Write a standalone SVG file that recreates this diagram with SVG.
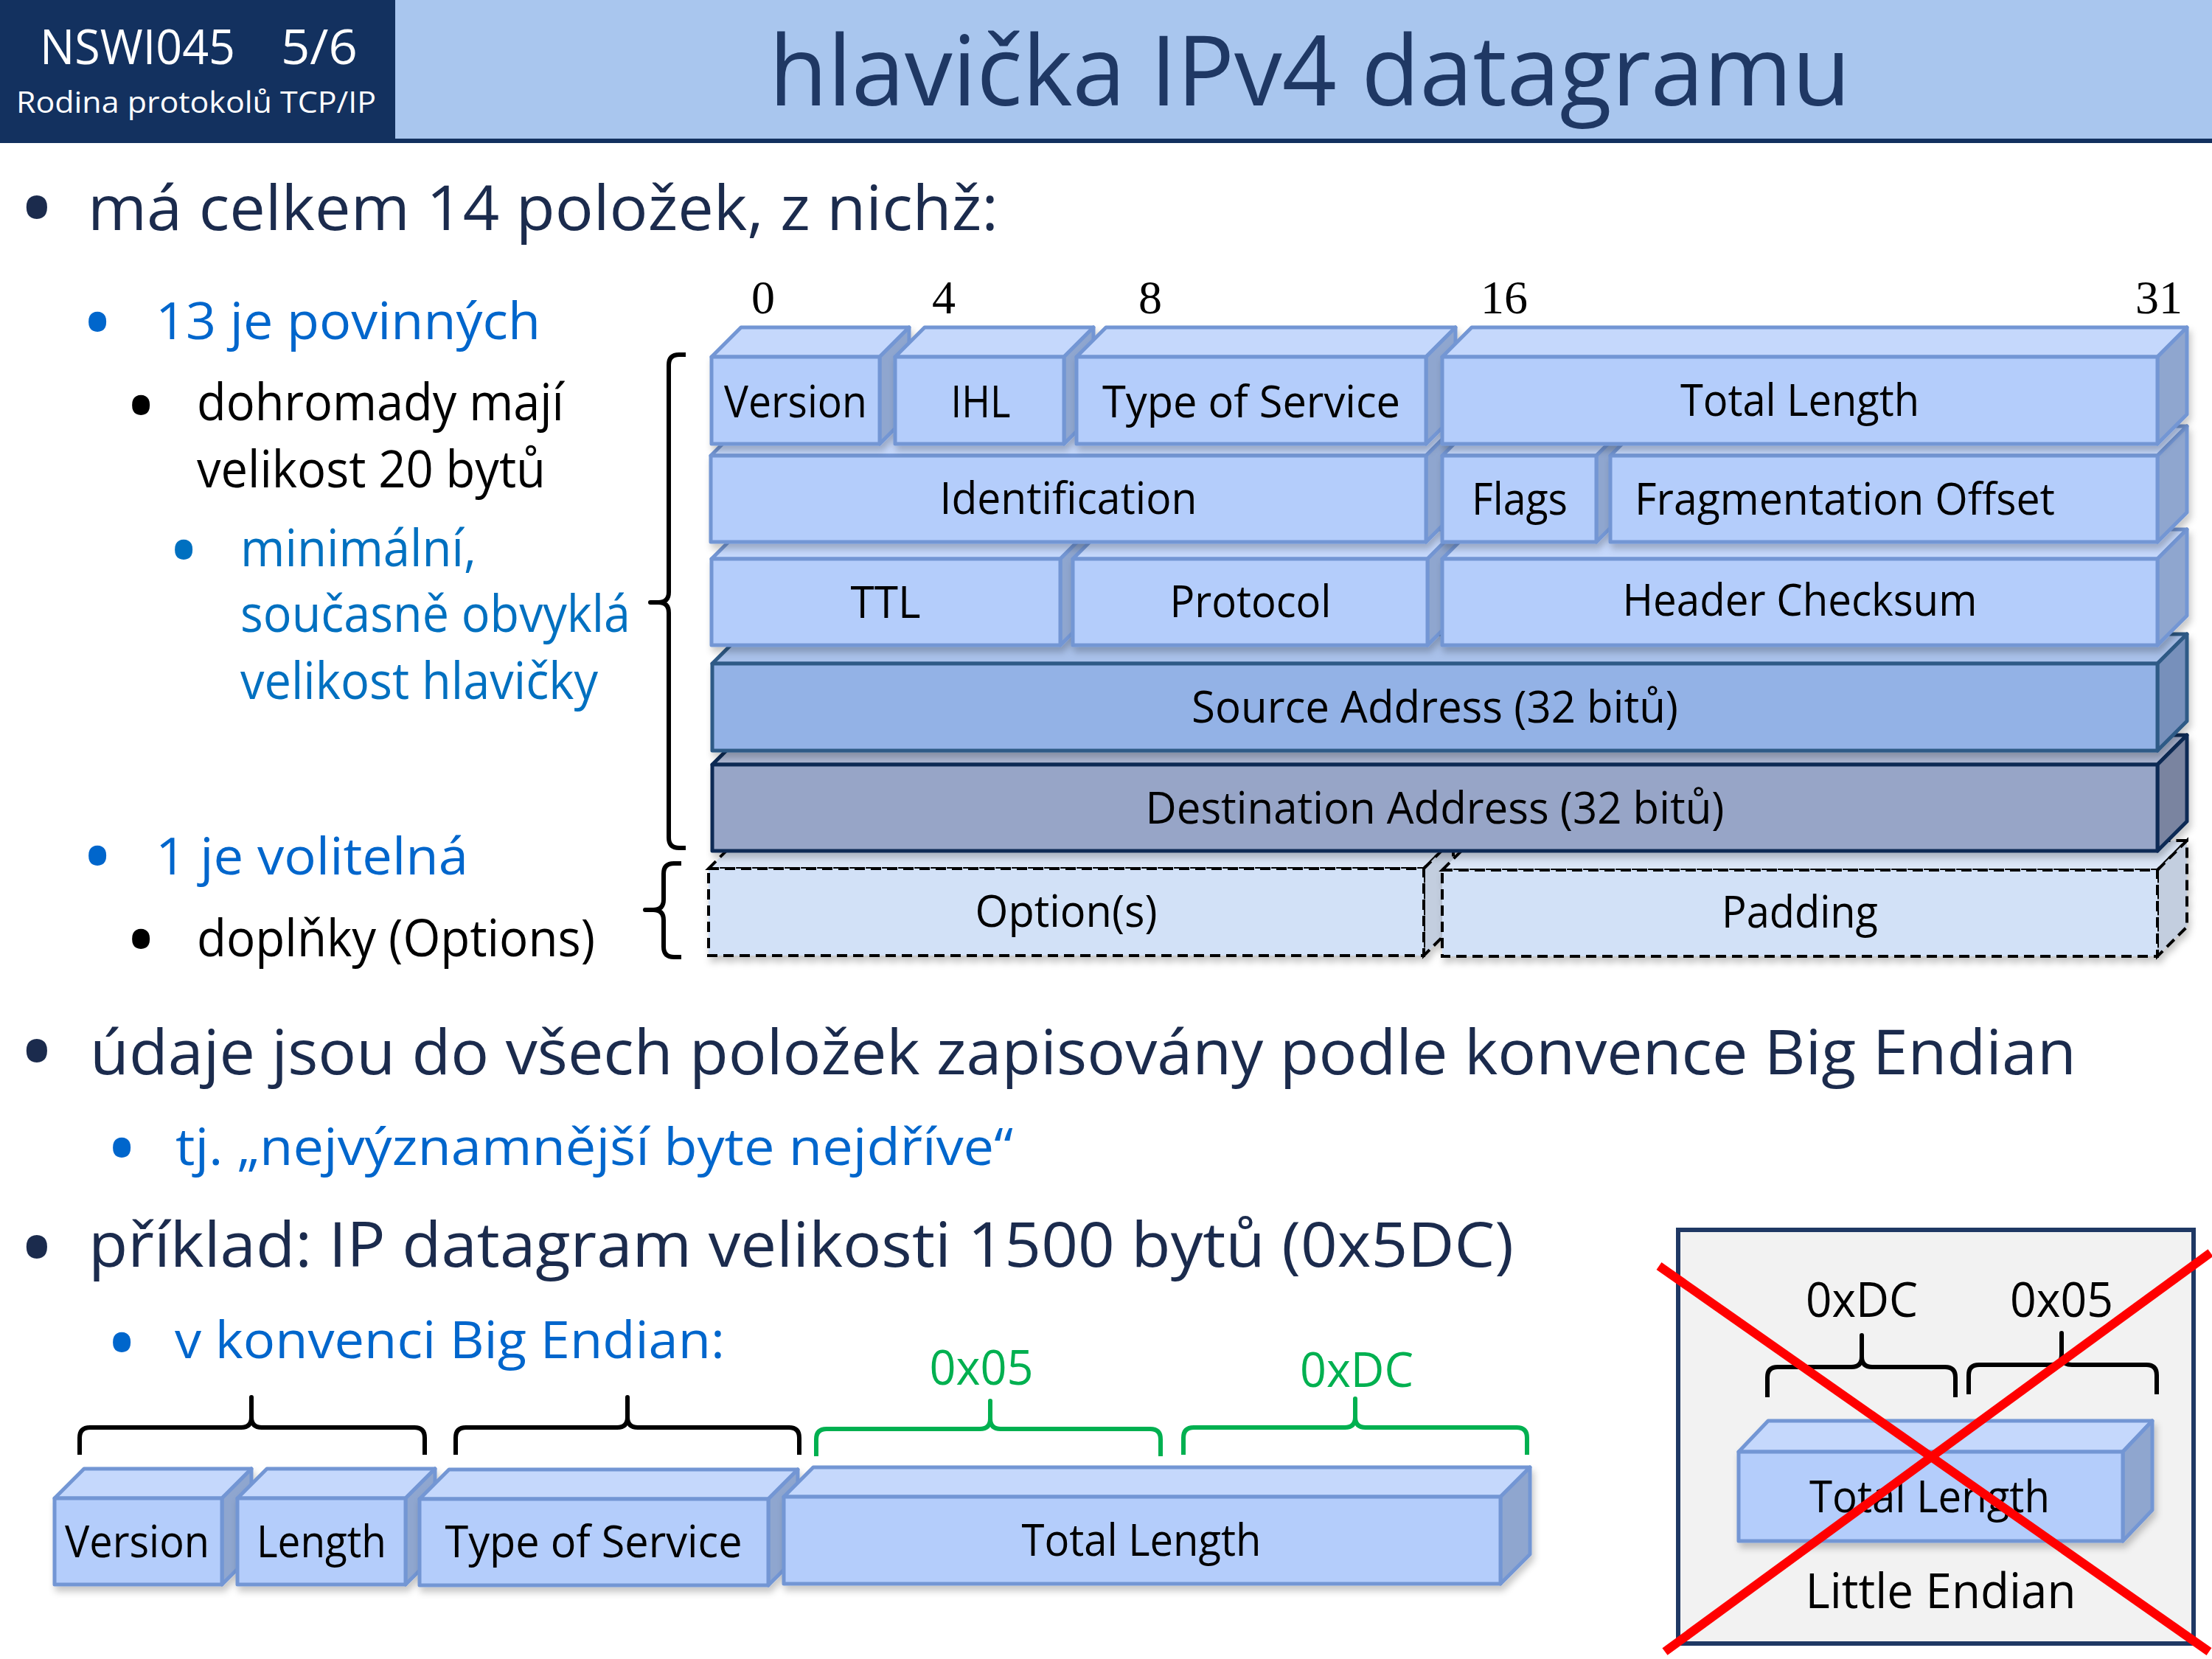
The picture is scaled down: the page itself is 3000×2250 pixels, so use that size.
<svg xmlns="http://www.w3.org/2000/svg" width="3000" height="2250" viewBox="0 0 3000 2250">
<defs>
<filter id="sh" x="-5%" y="-20%" width="110%" height="150%">
<feDropShadow dx="3" dy="7" stdDeviation="5" flood-color="#000" flood-opacity="0.22"/>
</filter>
<style>
text{font-family:'Open Sans','Liberation Sans',sans-serif}
.f{fill:#B4CDFB;stroke:#7396D4;stroke-width:5;stroke-linejoin:round}
.t{fill:#C5D8FC;stroke:#7396D4;stroke-width:5;stroke-linejoin:round}
.s{fill:#8FA6CF;stroke:#7396D4;stroke-width:5;stroke-linejoin:round}
.sf{fill:#93B2E6;stroke:#2F5A86;stroke-width:5;stroke-linejoin:round}
.st{fill:#A9C1EA;stroke:#2F5A86;stroke-width:5;stroke-linejoin:round}
.ss{fill:#7790BB;stroke:#2F5A86;stroke-width:5;stroke-linejoin:round}
.df{fill:#97A5C7;stroke:#0E2B55;stroke-width:5;stroke-linejoin:round}
.dt{fill:#ABB6D2;stroke:#0E2B55;stroke-width:5;stroke-linejoin:round}
.ds{fill:#7A84A0;stroke:#0E2B55;stroke-width:5;stroke-linejoin:round}
.of{fill:#D2E1F7;stroke:#000;stroke-width:4;stroke-dasharray:14 8}
.ot{fill:#DAE5F6;stroke:#000;stroke-width:4;stroke-dasharray:14 8}
.os{fill:#C3CEDF;stroke:#000;stroke-width:4;stroke-dasharray:14 8}
.lbl{font-size:60px;fill:#000;text-anchor:middle}
.bit{font-family:'Liberation Serif',serif;font-size:64px;fill:#000;text-anchor:middle}
.h1{font-size:84px;fill:#1B2B4D}
.b2{font-size:70px;fill:#0066CC}
.b3{font-size:70px;fill:#000}
.b4{font-size:70px;fill:#0070C0}
.bul{text-anchor:middle;font-size:115px}
.bul1{text-anchor:middle;font-size:135px}
.br{fill:none;stroke:#000;stroke-width:6;stroke-linejoin:round}
.brg{fill:none;stroke:#00B050;stroke-width:6;stroke-linejoin:round}
.hex{font-size:66px;text-anchor:middle}
</style>
</defs>
<rect width="3000" height="2250" fill="#FFFFFF"/>

<g id="header">
<rect x="536" y="0" width="2464" height="190" fill="#A9C6EE"/>
<rect x="0" y="188" width="3000" height="6" fill="#13315F"/>
<rect x="0" y="0" width="536" height="194" fill="#13315F"/>
<text x="54" y="87" font-size="66" fill="#FFFFFF" textLength="265" lengthAdjust="spacingAndGlyphs">NSWI045</text>
<text x="381" y="87" font-size="66" fill="#FFFFFF" textLength="104" lengthAdjust="spacingAndGlyphs">5/6</text>
<text x="22" y="153" font-size="41" fill="#FFFFFF" textLength="488" lengthAdjust="spacingAndGlyphs">Rodina protokolů TCP/IP</text>
<text x="1043" y="143" font-size="132" fill="#1F3864" textLength="1467" lengthAdjust="spacingAndGlyphs">hlavička IPv4 datagramu</text>
</g>

<g id="bullets">
<text class="bul1" x="50" y="331" fill="#1B2B4D">•</text>
<text class="h1" x="119" y="312" textLength="1235" lengthAdjust="spacingAndGlyphs">má celkem 14 položek, z nichž:</text>
<text class="bul" x="132" y="479" fill="#0066CC">•</text>
<text class="b2" x="211" y="460" textLength="522" lengthAdjust="spacingAndGlyphs">13 je povinných</text>
<text class="bul" x="191" y="592" fill="#000">•</text>
<text class="b3" x="267" y="570" textLength="498" lengthAdjust="spacingAndGlyphs">dohromady mají</text>
<text class="b3" x="267" y="661" textLength="473" lengthAdjust="spacingAndGlyphs">velikost 20 bytů</text>
<text class="bul" x="249" y="788" fill="#0070C0">•</text>
<text class="b4" x="326" y="768" textLength="320" lengthAdjust="spacingAndGlyphs">minimální,</text>
<text class="b4" x="326" y="857" textLength="529" lengthAdjust="spacingAndGlyphs">současně obvyklá</text>
<text class="b4" x="326" y="948" textLength="485" lengthAdjust="spacingAndGlyphs">velikost hlavičky</text>
<text class="bul" x="132" y="1203" fill="#0066CC">•</text>
<text class="b2" x="211" y="1186" textLength="424" lengthAdjust="spacingAndGlyphs">1 je volitelná</text>
<text class="bul" x="191" y="1316" fill="#000">•</text>
<text class="b3" x="267" y="1297" textLength="540" lengthAdjust="spacingAndGlyphs">doplňky (Options)</text>
<text class="bul1" x="50" y="1475" fill="#1B2B4D">•</text>
<text class="h1" x="122" y="1457" textLength="2694" lengthAdjust="spacingAndGlyphs">údaje jsou do všech položek zapisovány podle konvence Big Endian</text>
<text class="bul" x="165" y="1599" fill="#0066CC">•</text>
<text class="b2" x="238" y="1580" textLength="1136" lengthAdjust="spacingAndGlyphs">tj. „nejvýznamnější byte nejdříve“</text>
<text class="bul1" x="50" y="1741" fill="#1B2B4D">•</text>
<text class="h1" x="120" y="1718" textLength="1933" lengthAdjust="spacingAndGlyphs">příklad: IP datagram velikosti 1500 bytů (0x5DC)</text>
<text class="bul" x="165" y="1863" fill="#0066CC">•</text>
<text class="b2" x="237" y="1842" textLength="746" lengthAdjust="spacingAndGlyphs">v konvenci Big Endian:</text>
</g>

<g id="bit-numbers">
<text class="bit" x="1035" y="425">0</text>
<text class="bit" x="1280" y="425">4</text>
<text class="bit" x="1560" y="425">8</text>
<text class="bit" x="2040" y="425">16</text>
<text class="bit" x="2928" y="425">31</text>
</g>

<g id="header-fields">
<g id="options" filter="url(#sh)">
<polygon class="ot" points="961,1178 1001,1138 1971,1138 1931,1178"/>
<polygon class="os" points="1931,1178 1971,1138 1971,1256 1931,1296"/>
<rect class="of" x="961" y="1178" width="970" height="118"/>
<text class="lbl" x="1446" y="1257" textLength="247" lengthAdjust="spacingAndGlyphs">Option(s)</text>
</g>
<g id="padding" filter="url(#sh)">
<polygon class="ot" points="1956,1180 1996,1140 2966,1140 2926,1180"/>
<polygon class="os" points="2926,1180 2966,1140 2966,1257 2926,1297"/>
<rect class="of" x="1956" y="1180" width="970" height="117"/>
<text class="lbl" x="2441" y="1258" textLength="212" lengthAdjust="spacingAndGlyphs">Padding</text>
</g>
<g id="destination-address" filter="url(#sh)">
<polygon class="dt" points="966,1037 1006,997 2966,997 2926,1037"/>
<polygon class="ds" points="2926,1037 2966,997 2966,1114 2926,1154"/>
<rect class="df" x="966" y="1037" width="1960" height="117"/>
<text class="lbl" x="1946" y="1117" textLength="785" lengthAdjust="spacingAndGlyphs">Destination Address (32 bitů)</text>
</g>
<g id="source-address" filter="url(#sh)">
<polygon class="st" points="966,900 1006,860 2966,860 2926,900"/>
<polygon class="ss" points="2926,900 2966,860 2966,978 2926,1018"/>
<rect class="sf" x="966" y="900" width="1960" height="118"/>
<text class="lbl" x="1946" y="980" textLength="660" lengthAdjust="spacingAndGlyphs">Source Address (32 bitů)</text>
</g>
<g id="ttl" filter="url(#sh)">
<polygon class="t" points="965,758 1005,718 1478,718 1438,758"/>
<polygon class="s" points="1438,758 1478,718 1478,835 1438,875"/>
<rect class="f" x="965" y="758" width="473" height="117"/>
<text class="lbl" x="1201" y="838" textLength="95" lengthAdjust="spacingAndGlyphs">TTL</text>
</g>
<g id="protocol" filter="url(#sh)">
<polygon class="t" points="1455,758 1495,718 1976,718 1936,758"/>
<polygon class="s" points="1936,758 1976,718 1976,835 1936,875"/>
<rect class="f" x="1455" y="758" width="481" height="117"/>
<text class="lbl" x="1696" y="837" textLength="219" lengthAdjust="spacingAndGlyphs">Protocol</text>
</g>
<g id="header-checksum" filter="url(#sh)">
<polygon class="t" points="1956,758 1996,718 2966,718 2926,758"/>
<polygon class="s" points="2926,758 2966,718 2966,835 2926,875"/>
<rect class="f" x="1956" y="758" width="970" height="117"/>
<text class="lbl" x="2441" y="835" textLength="481" lengthAdjust="spacingAndGlyphs">Header Checksum</text>
</g>
<g id="identification" filter="url(#sh)">
<polygon class="t" points="964,618 1004,578 1974,578 1934,618"/>
<polygon class="s" points="1934,618 1974,578 1974,695 1934,735"/>
<rect class="f" x="964" y="618" width="970" height="117"/>
<text class="lbl" x="1449" y="697" textLength="349" lengthAdjust="spacingAndGlyphs">Identification</text>
</g>
<g id="flags" filter="url(#sh)">
<polygon class="t" points="1956,618 1996,578 2205,578 2165,618"/>
<polygon class="s" points="2165,618 2205,578 2205,695 2165,735"/>
<rect class="f" x="1956" y="618" width="209" height="117"/>
<text class="lbl" x="2061" y="698" textLength="130" lengthAdjust="spacingAndGlyphs">Flags</text>
</g>
<g id="fragmentation-offset" filter="url(#sh)">
<polygon class="t" points="2184,618 2224,578 2966,578 2926,618"/>
<polygon class="s" points="2926,618 2966,578 2966,695 2926,735"/>
<rect class="f" x="2184" y="618" width="742" height="117"/>
<text class="lbl" x="2217" y="698" style="text-anchor:start" textLength="570" lengthAdjust="spacingAndGlyphs">Fragmentation Offset</text>
</g>
<g id="version" filter="url(#sh)">
<polygon class="t" points="965,484 1005,444 1233,444 1193,484"/>
<polygon class="s" points="1193,484 1233,444 1233,562 1193,602"/>
<rect class="f" x="965" y="484" width="228" height="118"/>
<text class="lbl" x="1079" y="566" textLength="194" lengthAdjust="spacingAndGlyphs">Version</text>
</g>
<g id="ihl" filter="url(#sh)">
<polygon class="t" points="1214,484 1254,444 1483,444 1443,484"/>
<polygon class="s" points="1443,484 1483,444 1483,562 1443,602"/>
<rect class="f" x="1214" y="484" width="229" height="118"/>
<text class="lbl" x="1330" y="566" textLength="81" lengthAdjust="spacingAndGlyphs">IHL</text>
</g>
<g id="type-of-service" filter="url(#sh)">
<polygon class="t" points="1460,484 1500,444 1974,444 1934,484"/>
<polygon class="s" points="1934,484 1974,444 1974,562 1934,602"/>
<rect class="f" x="1460" y="484" width="474" height="118"/>
<text class="lbl" x="1697" y="566" textLength="404" lengthAdjust="spacingAndGlyphs">Type of Service</text>
</g>
<g id="total-length" filter="url(#sh)">
<polygon class="t" points="1956,484 1996,444 2966,444 2926,484"/>
<polygon class="s" points="2926,484 2966,444 2966,562 2926,602"/>
<rect class="f" x="1956" y="484" width="970" height="118"/>
<text class="lbl" x="2441" y="564" textLength="324" lengthAdjust="spacingAndGlyphs">Total Length</text>
</g>
</g>

<g id="example-big-endian">
<g id="be-version" filter="url(#sh)">
<polygon class="t" points="74,2032 114,1992 341,1992 301,2032"/>
<polygon class="s" points="301,2032 341,1992 341,2109 301,2149"/>
<rect class="f" x="74" y="2032" width="227" height="117"/>
<text class="lbl" x="186" y="2112" textLength="196" lengthAdjust="spacingAndGlyphs">Version</text>
</g>
<g id="be-length" filter="url(#sh)">
<polygon class="t" points="322,2032 362,1992 590,1992 550,2032"/>
<polygon class="s" points="550,2032 590,1992 590,2109 550,2149"/>
<rect class="f" x="322" y="2032" width="228" height="117"/>
<text class="lbl" x="436" y="2112" textLength="176" lengthAdjust="spacingAndGlyphs">Length</text>
</g>
<g id="be-type-of-service" filter="url(#sh)">
<polygon class="t" points="569,2033 609,1993 1082,1993 1042,2033"/>
<polygon class="s" points="1042,2033 1082,1993 1082,2110 1042,2150"/>
<rect class="f" x="569" y="2033" width="473" height="117"/>
<text class="lbl" x="805" y="2112" textLength="403" lengthAdjust="spacingAndGlyphs">Type of Service</text>
</g>
<g id="be-total-length" filter="url(#sh)">
<polygon class="t" points="1063,2030 1103,1990 2075,1990 2035,2030"/>
<polygon class="s" points="2035,2030 2075,1990 2075,2108 2035,2148"/>
<rect class="f" x="1063" y="2030" width="972" height="118"/>
<text class="lbl" x="1548" y="2110" textLength="325" lengthAdjust="spacingAndGlyphs">Total Length</text>
</g>
<text class="hex" x="1331" y="1878" fill="#00B050" textLength="141" lengthAdjust="spacingAndGlyphs">0x05</text>
<text class="hex" x="1840" y="1881" fill="#00B050" textLength="154" lengthAdjust="spacingAndGlyphs">0xDC</text>
</g>

<g id="example-little-endian">
<rect x="2276" y="1668" width="699" height="561" fill="#F2F2F2" stroke="#1F3864" stroke-width="6"/>
<text class="hex" x="2525" y="1786" fill="#000" textLength="152" lengthAdjust="spacingAndGlyphs">0xDC</text>
<text class="hex" x="2796" y="1786" fill="#000" textLength="140" lengthAdjust="spacingAndGlyphs">0x05</text>
<g id="le-total-length" filter="url(#sh)">
<polygon class="t" points="2358,1969 2398,1927 2919,1927 2879,1969"/>
<polygon class="s" points="2879,1969 2919,1927 2919,2048 2879,2090"/>
<rect class="f" x="2358" y="1969" width="521" height="121"/>
<text class="lbl" x="2617" y="2051" textLength="326" lengthAdjust="spacingAndGlyphs">Total Length</text>
</g>
<text class="hex" x="2632" y="2181" fill="#000" textLength="367" lengthAdjust="spacingAndGlyphs">Little Endian</text>
</g>

<g id="braces">
<path class="br" d="M930,481 L921,481 Q907,481 907,495 L907,803 Q907,817 893,817 L882,817 L893,817 Q907,817 907,831 L907,1136 Q907,1150 921,1150 L930,1150"/>
<path class="br" d="M924,1171 L914,1171 Q900,1171 900,1185 L900,1220 Q900,1234 886,1234 L875,1234 L886,1234 Q900,1234 900,1248 L900,1284 Q900,1298 914,1298 L924,1298"/>
<path class="br" d="M108,1973 L108,1950 Q108,1936 122,1936 L327,1936 Q341,1936 341,1922 L341,1895 L341,1922 Q341,1936 355,1936 L562,1936 Q576,1936 576,1950 L576,1973"/>
<path class="br" d="M618,1973 L618,1950 Q618,1936 632,1936 L837,1936 Q851,1936 851,1922 L851,1895 L851,1922 Q851,1936 865,1936 L1070,1936 Q1084,1936 1084,1950 L1084,1973"/>
<path class="brg" d="M1107,1975 L1107,1952 Q1107,1938 1121,1938 L1329,1938 Q1343,1938 1343,1924 L1343,1900 L1343,1924 Q1343,1938 1357,1938 L1560,1938 Q1574,1938 1574,1952 L1574,1975"/>
<path class="brg" d="M1605,1973 L1605,1950 Q1605,1936 1619,1936 L1824,1936 Q1838,1936 1838,1922 L1838,1897 L1838,1922 Q1838,1936 1852,1936 L2057,1936 Q2071,1936 2071,1950 L2071,1973"/>
<path class="br" d="M2397,1895 L2397,1868 Q2397,1854 2411,1854 L2511,1854 Q2525,1854 2525,1840 L2525,1811 L2525,1840 Q2525,1854 2539,1854 L2638,1854 Q2652,1854 2652,1868 L2652,1895"/>
<path class="br" d="M2670,1891 L2670,1865 Q2670,1851 2684,1851 L2782,1851 Q2796,1851 2796,1837 L2796,1808 L2796,1837 Q2796,1851 2810,1851 L2911,1851 Q2925,1851 2925,1865 L2925,1891"/>
</g>

<g id="cross" stroke="#FF0000" stroke-width="12" stroke-linecap="butt">
<line x1="2250" y1="1717" x2="2996" y2="2240"/>
<line x1="2998" y1="1699" x2="2258" y2="2240"/>
</g>
</svg>
